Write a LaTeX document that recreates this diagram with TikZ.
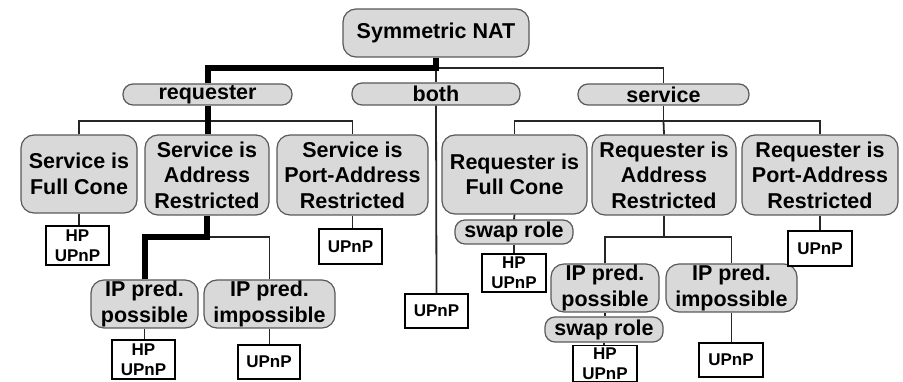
\documentclass[tikz,border=0pt]{standalone}
\usepackage{fontspec}
\setmainfont{Liberation Sans}
\begin{document}
\begin{tikzpicture}[x=1pt,y=-1pt,
  every node/.style={inner sep=0pt, align=center, font=\bfseries\fontsize{21.5}{25.5}\selectfont},
  grey/.style={draw=black!65, fill=black!15, line width=1.2pt, rounded corners=13pt},
  pill/.style={draw=black!65, fill=black!15, line width=1.2pt, rounded corners=10pt},
  upnp/.style={draw=black, fill=white, line width=1.6pt, font=\bfseries\fontsize{17}{20}\selectfont},
  conn/.style={line width=1.8pt, draw=black!85},
  hot/.style={line width=6pt, draw=black},
]
\useasboundingbox (0,0) rectangle (903,382);

% top level
\node[grey, minimum width=186pt, minimum height=48pt] (root) at (436,33) {Symmetric NAT};

% who initiates
\node[pill, minimum width=169pt, minimum height=21pt] (req)  at (207.5,94.5) {requester};
\node[pill, minimum width=168pt, minimum height=22pt] (both) at (436,94)     {both};
\node[pill, minimum width=171pt, minimum height=21pt] (svc)  at (663.5,94.5) {service};

% NAT type of the other side
\node[grey, minimum width=116pt, minimum height=78pt] (sfc) at (79,174)    {Service is\\Full Cone};
\node[grey, minimum width=124pt, minimum height=80pt] (sar) at (207,175)   {Service is\\Address\\Restricted};
\node[grey, minimum width=151pt, minimum height=80pt] (spr) at (352.5,175) {Service is\\Port-Address\\Restricted};
\node[grey, minimum width=145pt, minimum height=79pt] (rfc) at (514.5,174.5) {Requester is\\Full Cone};
\node[grey, minimum width=144pt, minimum height=80pt] (rar) at (664,175)   {Requester is\\Address\\Restricted};
\node[grey, minimum width=156pt, minimum height=80pt] (rpr) at (820,175)   {Requester is\\Port-Address\\Restricted};

% IP prediction
\node[grey, minimum width=107pt, minimum height=48pt] (ipp1) at (144.5,304) {IP pred.\\possible};
\node[grey, minimum width=131pt, minimum height=48pt] (ipi1) at (269.5,304) {IP pred.\\impossible};
\node[grey, minimum width=108pt, minimum height=48pt] (ipp2) at (605,288)   {IP pred.\\possible};
\node[grey, minimum width=131pt, minimum height=48pt] (ipi2) at (731.5,288) {IP pred.\\impossible};

% role swaps
\node[pill, minimum width=118pt, minimum height=24pt] (sw1) at (514,232)   {swap role};
\node[pill, minimum width=118pt, minimum height=25pt] (sw2) at (604,329.5) {swap role};

% resulting techniques
\node[upnp, minimum width=63pt, minimum height=39pt] (u1) at (77.5,245.5) {HP\\UPnP};
\node[upnp, minimum width=63pt, minimum height=35pt] (u2) at (350.5,246.5) {UPnP};
\node[upnp, minimum width=63pt, minimum height=34pt] (ub) at (436.5,311) {UPnP};
\node[upnp, minimum width=64pt, minimum height=38pt] (u3) at (514,273) {HP\\UPnP};
\node[upnp, minimum width=64pt, minimum height=35pt] (u4) at (820,248.5) {UPnP};
\node[upnp, minimum width=63pt, minimum height=39pt] (u5) at (143.5,359.5) {HP\\UPnP};
\node[upnp, minimum width=62pt, minimum height=34pt] (u6) at (269,362) {UPnP};
\node[upnp, minimum width=64pt, minimum height=36pt] (u7) at (605,363.5) {HP\\UPnP};
\node[upnp, minimum width=64pt, minimum height=34pt] (u8) at (731,360) {UPnP};

% junctions of the tree
\coordinate (j0) at (436,68);
\coordinate (j1) at (207.5,121);
\coordinate (j2) at (663.5,121);
\coordinate (j3) at (207,237);
\coordinate (j4) at (664,237);

% root
\draw[conn] (j0) -| (svc.north);
\draw[conn] (j0) -- (both.north);
\draw[conn] (both.south) -- (ub.north);
% requester branch
\draw[conn] (sfc.north) |- (j1) -| (spr.north);
% service branch
\draw[conn] (svc.south) -- (j2);
\draw[conn] (rfc.north) |- (j2) -| (rpr.north);
\draw[conn] (j2) -- (rar.north);
% leaves
\draw[conn] (sfc.south) -- (u1.north -| sfc.south);
\draw[conn] (spr.south) -- (u2.north -| spr.south);
\draw[conn] (rfc.south) -- (sw1.north);
\draw[conn] (sw1.south) -- (u3.north);
\draw[conn] (rpr.south) -- (u4.north);
\draw[conn] (j3) -| (ipi1.north);
\draw[conn] (ipp1.south) -- (u5.north -| ipp1.south);
\draw[conn] (ipi1.south) -- (u6.north -| ipi1.south);
\draw[conn] (rar.south) -- (j4);
\draw[conn] (ipp2.north) |- (j4) -| (ipi2.north);
\draw[conn] (ipp2.south) -- (sw2.north -| ipp2.south);
\draw[conn] (sw2.south) -- (u7.north -| sw2.south);
\draw[conn] (ipi2.south) -- (u8.north -| ipi2.south);
% highlighted path
\draw[hot] (root.south) -- (j0) -| (req.north);
\draw[hot] (req.south) -- (req.south |- sar.north);
\draw[hot] (sar.south) -- (j3) -| (ipp1.north);
\end{tikzpicture}
\end{document}
